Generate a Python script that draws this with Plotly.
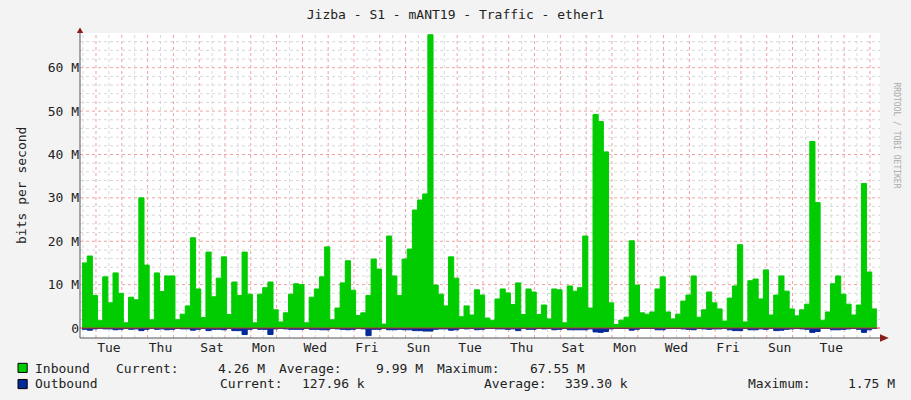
import numpy as np
import plotly.graph_objects as go

# inbound traffic, Mbit/s, one value per ~4.8h step
inbound = [
    15, 16.6, 7.5, 1.7, 11.8, 5.8, 12.7, 8, 1.2, 7.1, 6.5, 30, 14.5, 1.9, 12.7, 8.4, 12, 12,
    1.9, 3.2, 5.1, 20.8, 9, 2.4, 17.5, 7.2, 11.5, 16.4, 3.1, 10.6, 7.5, 17.5, 7.8, 1.2,
    7.8, 9.3, 10.6, 4.2, 1.4, 3.5, 7.8, 10.2, 10, 1.2, 7.1, 9, 11.8, 18.7, 1.9, 4.6,
    10.4, 15.5, 8.7, 2.9, 3.5, 7.5, 15.9, 13.6, 0.9, 21.2, 12, 7.5, 15.9, 18.2, 27.2,
    29.5, 30.9, 67.6, 9.9, 7.8, 5.1, 16.4, 11.5, 2.6, 5.1, 3, 8.8, 7.6, 2.3, 1.8, 6.7,
    9, 8.1, 5.4, 10.4, 3.1, 9, 8.3, 3.1, 5.3, 2.1, 9, 8.8, 1.2, 9.7, 8.5, 9.3, 21.2,
    4.6, 49.2, 47.6, 40.6, 5.8, 0.8, 1.8, 2.5, 20.1, 9.9, 3.5, 3.2, 3.7, 9, 11.8, 3.7,
    2.1, 3.2, 6.2, 7.6, 12, 2.5, 4.2, 8.3, 5.8, 4.4, 1.6, 6.9, 9.7, 19.2, 1.4, 10.9,
    11.3, 6.7, 13.4, 3, 7.6, 12, 8.5, 4.4, 2.8, 4.2, 5.5, 43, 28.9, 1.8, 3.7, 10.2, 12,
    7.8, 5.5, 3, 5.3, 33.3, 12.9, 4.4,
]
# outbound traffic, Mbit/s
outbound = [
    0.3, 0.5, 0.2, 0.1, 0.2, 0.2, 0.4, 0.3, 0.1, 0.3, 0.2, 0.6, 0.3, 0.1, 0.3, 0.2, 0.4, 0.3,
    0.1, 0.2, 0.2, 0.5, 0.3, 0.1, 0.6, 0.3, 0.3, 0.4, 0.1, 0.6, 0.6, 1.5, 0.3, 0.1,
    0.3, 0.3, 1.5, 0.2, 0.1, 0.2, 0.3, 0.3, 0.3, 0.1, 0.3, 0.3, 0.4, 0.4, 0.1, 0.2,
    0.3, 0.4, 0.3, 0.1, 0.2, 1.75, 0.3, 0.3, 0.1, 0.4, 0.4, 0.3, 0.4, 0.4, 0.6,
    0.6, 0.7, 0.7, 0.3, 0.2, 0.2, 0.5, 0.4, 0.1, 0.2, 0.1, 0.4, 0.3, 0.1, 0.1, 0.2,
    0.2, 0.3, 0.2, 0.6, 0.1, 0.3, 0.3, 0.1, 0.2, 0.1, 0.4, 0.3, 0.1, 0.4, 0.4, 0.4, 0.4,
    0.2, 0.9, 1.0, 0.8, 0.2, 0.1, 0.1, 0.1, 0.5, 0.3, 0.1, 0.1, 0.1, 0.4, 0.4, 0.1,
    0.1, 0.1, 0.2, 0.3, 0.4, 0.1, 0.2, 0.3, 0.2, 0.2, 0.1, 0.4, 0.6, 0.6, 0.1, 0.4,
    0.4, 0.2, 0.3, 0.1, 0.6, 0.5, 0.3, 0.2, 0.1, 0.2, 0.3, 1.0, 0.8, 0.1, 0.1, 0.4, 0.4,
    0.3, 0.2, 0.1, 0.3, 1.0, 0.4, 0.1,
]
day_labels = ["Tue", "Thu", "Sat", "Mon", "Wed", "Fri", "Sun", "Tue",
              "Thu", "Sat", "Mon", "Wed", "Fri", "Sun", "Tue"]
y_ticks = [0, 10, 20, 30, 40, 50, 60]

# time in days since first Tuesday 00:00
t_start, t_end = -0.54, 30.27
step = (t_end - t_start) / len(inbound)
t = t_start + step * np.arange(len(inbound) + 1)
inb = inbound + [inbound[-1]]
outb = [-v for v in outbound] + [-outbound[-1]]

mono = "DejaVu Sans Mono"
fig = go.Figure()
fig.add_trace(go.Scatter(x=t, y=inb, mode="lines", line=dict(shape="hv", width=1, color="#00CC00"),
                         fill="tozeroy", fillcolor="#00CC00", name="Inbound"))
fig.add_trace(go.Scatter(x=t, y=outb, mode="lines", line=dict(shape="hv", width=1, color="#002A97"),
                         fill="tozeroy", fillcolor="#002A97", name="Outbound"))

x0, x1 = -0.62, 30.39
y0, y1 = -2.3, 68

shapes = []
# grid
for v in np.arange(-0.5, 30.4, 0.5):
    shapes.append(dict(type="line", xref="x", yref="y", x0=v, x1=v, y0=y0, y1=y1, layer="below",
                       line=dict(color="#d8d8d8" if v % 1 else "#f0a0a0", width=1, dash="dot")))
for v in range(2, 68, 2):
    shapes.append(dict(type="line", xref="x", yref="y", x0=x0, x1=x1, y0=v, y1=v, layer="below",
                       line=dict(color="#f0a0a0" if v % 10 == 0 else "#d8d8d8", width=1, dash="dot")))
# zero line and axes
shapes.append(dict(type="line", xref="x", yref="y", x0=x0, x1=x1, y0=0, y1=0, line=dict(color="#cc3333", width=1)))
shapes.append(dict(type="line", xref="paper", yref="paper", x0=0, x1=1.005, y0=0, y1=0, line=dict(color="#555", width=1)))
shapes.append(dict(type="line", xref="paper", yref="paper", x0=0, x1=0, y0=0, y1=1.0, line=dict(color="#555", width=1)))
# axis arrow heads
shapes.append(dict(type="path", xref="paper", yref="paper",
                   path="M 1.0 0.012 L 1.011 0 L 1.0 -0.012 Z", fillcolor="#8b1a1a", line=dict(width=0)))
shapes.append(dict(type="path", xref="paper", yref="paper",
                   path="M -0.004 1.0 L 0 1.018 L 0.004 1.0 Z", fillcolor="#8b1a1a", line=dict(width=0)))
# legend squares
for py, col in [(-0.098, "#00CC00"), (-0.151, "#002A97")]:
    shapes.append(dict(type="rect", xref="paper", yref="paper", x0=-0.0775, x1=-0.066,
                       y0=py - 0.015, y1=py + 0.015, fillcolor=col, line=dict(color="black", width=1)))

ann = []
def txt(px, py, s, anchor="left", size=13, color="#222"):
    ann.append(dict(xref="paper", yref="paper", x=(px - 80) / 800, y=(338 - py) / 305, text=s,
                    showarrow=False, xanchor=anchor, yanchor="middle",
                    font=dict(family=mono, size=size, color=color)))

txt(33, 368, "Inbound")
txt(114, 368, "Current:")
txt(267, 368, "4.26 M", "right")
txt(277, 368, "Average:")
txt(425, 368, "9.99 M", "right")
txt(435, 368, "Maximum:")
txt(587, 368, "67.55 M", "right")
txt(33, 384, "Outbound")
txt(218, 384, "Current:")
txt(367, 384, "127.96 k", "right")
txt(482, 384, "Average:")
txt(630, 384, "339.30 k", "right")
txt(746, 384, "Maximum:")
txt(897, 384, "1.75 M", "right")
ann.append(dict(xref="paper", yref="paper", x=(903 - 80) / 800, y=(338 - 80) / 305,
                text="RRDTOOL / TOBI OETIKER", showarrow=False, textangle=90,
                font=dict(family=mono, size=8, color="#aaaaaa")))
ann.append(dict(xref="paper", yref="paper", x=(12 - 80) / 800, y=0.5, text="bits per second",
                showarrow=False, textangle=-90, font=dict(family=mono, size=13, color="#222")))

fig.update_layout(
    width=911, height=400,
    margin=dict(l=80, r=31, t=33, b=62, autoexpand=False),
    paper_bgcolor="#f3f3f3", plot_bgcolor="white",
    showlegend=False,
    title=dict(text="Jizba - S1 - mANT19 - Traffic - ether1", x=0.5, xanchor="center",
               y=1 - 14 / 400, yanchor="middle", automargin=False,
               font=dict(family=mono, size=13, color="#222")),
    font=dict(family=mono, size=13, color="#222"),
    shapes=shapes, annotations=ann,
    xaxis=dict(range=[x0, x1], showgrid=False, zeroline=False, showline=False, automargin=False,
               tickvals=[0.5 + 2 * i for i in range(len(day_labels))], ticktext=day_labels,
               ticks="", tickfont=dict(family=mono, size=13)),
    yaxis=dict(range=[y0, y1], showgrid=False, zeroline=False, showline=False, automargin=False,
               tickvals=y_ticks, ticktext=[f"{v} M" if v else "0" for v in y_ticks], ticks="",
               tickfont=dict(family=mono, size=13)),
)
fig.write_html("out.html", config={"displayModeBar": False},
               post_script="document.body.style.margin='0';")
